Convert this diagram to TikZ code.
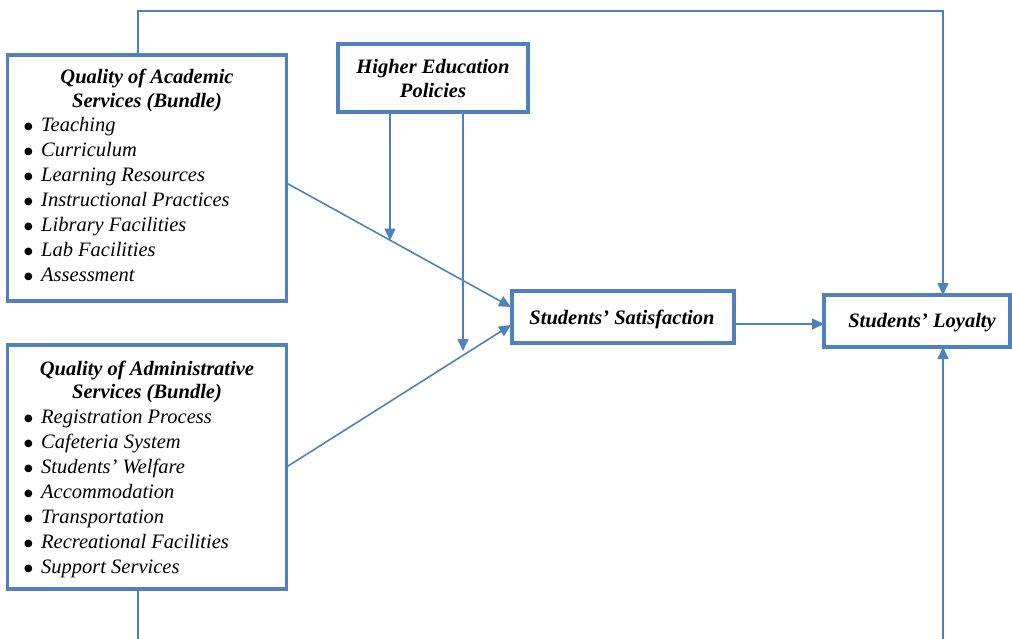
\documentclass[tikz,border=0pt]{standalone}
\usepackage{fontspec}
\setmainfont{Liberation Serif}
\newfontfamily\dvsym{DejaVu Sans}
\usetikzlibrary{arrows.meta}
\definecolor{boxblue}{HTML}{4F81BD}
\newcommand{\blt}{\makebox[17pt][l]{\raisebox{2pt}{\fontsize{10}{10}\selectfont\dvsym ●}}}
\begin{document}
\begin{tikzpicture}[x=1pt,y=-1pt,
  box/.style={draw=boxblue,line width=3.2pt,inner sep=0pt,fill=white},
  ttl/.style={anchor=base,inner sep=0pt,font=\fontsize{20.5}{24}\selectfont\bfseries\itshape},
  item/.style={anchor=base west,inner sep=0pt,font=\fontsize{20.5}{24}\selectfont\itshape},
  conn/.style={draw=boxblue,line width=1.6pt},
  arr/.style={conn,-{Triangle[length=12pt,width=11pt]}}]
\useasboundingbox (0,0) rectangle (1012,638);
% boxes
\node[box,minimum width=279pt,minimum height=246pt] (a) at (147,178) {};
\node[box,minimum width=279pt,minimum height=244pt] (d) at (147,467) {};
\node[box,minimum width=190pt,minimum height=68pt] (p) at (433,78) {};
\node[box,minimum width=222pt,minimum height=52pt] (s) at (623,317) {};
\node[box,minimum width=186pt,minimum height=52pt] (l) at (917,321) {};
% texts
\node[ttl] (at1) at (147,83) {Quality of Academic};
\node[ttl] (at2) at (147,107) {Services (Bundle)};
\foreach \t [count=\i] in {Teaching,Curriculum,Learning Resources,Instructional Practices,Library Facilities,Lab Facilities,Assessment}
  \node[item] (ai\i) at (24,106+25*\i) {\blt\t};
\node[ttl] (dt1) at (147,375) {Quality of Administrative};
\node[ttl] (dt2) at (147,398) {Services (Bundle)};
\foreach \t [count=\i] in {Registration Process,Cafeteria System,Students’ Welfare,Accommodation,Transportation,Recreational Facilities,Support Services}
  \node[item] (di\i) at (24,398+25*\i) {\blt\t};
\node[ttl] (pt1) at (433,73) {Higher Education};
\node[ttl] (pt2) at (433,97) {Policies};
\node[ttl] (st) at (622,324) {Students’ Satisfaction};
\node[ttl] (lt) at (922,327) {Students’ Loyalty};
% coordinates
\coordinate (atop) at (138,55);
\coordinate (ltop) at (943,295);
\coordinate (abot) at (138,589);
\coordinate (bl) at (138,640);
\coordinate (br) at (943,640);
\coordinate (lbot) at (943,347);
\coordinate (aout) at (286.5,183);
\coordinate (sin1) at (511,307);
\coordinate (dout) at (286.5,467);
\coordinate (sin2) at (511,325);
\coordinate (p1) at (390,112);
\coordinate (mid) at (390,240.5);
\coordinate (p2) at (463,112);
\coordinate (pend) at (463,351);
\coordinate (sout) at (734,324);
\coordinate (lin) at (824,324);
% connectors
\draw[arr] (atop) -- (138,11) -| (ltop);
\draw[conn] (abot) -- (bl);
\draw[arr] (br) -- (lbot);
\draw[arr] (aout) -- (sin1);
\draw[arr] (dout) -- (sin2);
\draw[arr] (p1) -- (mid);
\draw[arr] (p2) -- (pend);
\draw[arr] (sout) -- (lin);
\end{tikzpicture}
\end{document}
